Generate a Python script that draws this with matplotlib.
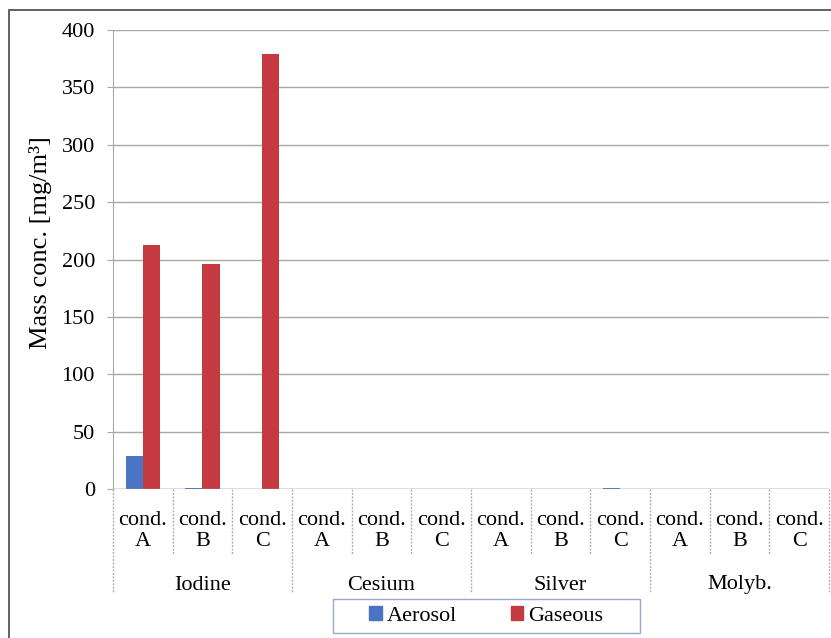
import numpy as np
import matplotlib
matplotlib.use('Agg')
import matplotlib.pyplot as plt
from matplotlib.patches import Rectangle, Patch
from matplotlib.transforms import blended_transform_factory

groups = ['Iodine', 'Cesium', 'Silver', 'Molyb.']
conds = ['A', 'B', 'C']
aerosol = [29.3, 1.5, 0, 0, 0, 0, 0, 0, 1.5, 0, 0, 0]
gaseous = [212.5, 196.2, 379, 0, 0, 0, 0, 0, 0, 0, 0, 0]

blue = '#4a74c4'
red = '#c43a40'

plt.rcParams['font.family'] = ['Liberation Serif', 'DejaVu Serif']
fs = 16

W, H = 831, 638
fig = plt.figure(figsize=(W / 100, H / 100), dpi=100)
ax = fig.add_axes([113 / W, (H - 489.3) / H, (829 - 113) / W, (489.3 - 30) / H])

x = np.arange(len(aerosol))
bw = 0.285
ax.bar(x - bw / 2, aerosol, bw, color=blue, zorder=3)
ax.bar(x + bw / 2, gaseous, bw, color=red, zorder=3)

ax.set_xlim(-0.5, len(x) - 0.5)
ax.set_ylim(0, 400)
ax.set_yticks(np.arange(0, 401, 50))
ax.yaxis.grid(True, color='#a8a8a0', lw=1.0)
ax.set_axisbelow(True)
ax.tick_params(axis='y', length=4, color='#a8a8a0', labelsize=fs, pad=9)
ax.tick_params(axis='x', length=0, labelbottom=False)
for s in ['top', 'right', 'bottom']:
    ax.spines[s].set_visible(False)
ax.spines['left'].set_color('#a8a8a0')
ax.spines['left'].set_linestyle((0, (1.5, 1)))
ax.axhline(0, color='#a0a0a0', lw=1.0, zorder=4)
fig.text(41 / W, 1 - 243 / H, 'Mass conc. [mg/m³]', rotation=90, ha='center', va='center',
         fontsize=19)

# multi-level category axis
trans = blended_transform_factory(ax.transData, ax.transAxes)
ah = 489.3 - 30
def fy(py):
    return -(py - 489.3) / ah

for i in range(len(x)):
    ax.text(i, fy(531), 'cond.\n' + conds[i % 3], transform=trans, ha='center', va='center',
            fontsize=fs, linespacing=1.1)
for i in range(len(x) + 1):
    top = fy(593) if i % 3 == 0 else fy(555)
    ax.plot([i - 0.5, i - 0.5], [0, top], transform=trans, color='#b0b0b0', lw=1.0,
            ls=(0, (1.5, 1)), clip_on=False)
for g, name in enumerate(groups):
    ax.text(g * 3 + 1, fy(585), name, transform=trans, ha='center', va='center', fontsize=fs)

handles = [Patch(color=blue, label='Aerosol'), Patch(color=red, label='Gaseous')]
leg = fig.legend(handles=handles, loc='center', bbox_to_anchor=(486.5 / W, 1 - 616 / H), ncol=2,
                 fontsize=fs, frameon=False, handlelength=0.55, handleheight=0.55,
                 handletextpad=0.25, columnspacing=2.4, borderpad=0.2)
fig.add_artist(Rectangle((333 / W, 1 - 633 / H), 307 / W, 34 / H, fill=False,
                         edgecolor='#9aa8c8', lw=1.0, transform=fig.transFigure))

# outer chart border (cropped on right and bottom)
fig.add_artist(Rectangle((9 / W, -0.1), 1.2, 1.1 - 10 / H, fill=False,
                         edgecolor='#555555', lw=1.3, transform=fig.transFigure))

fig.savefig('out.png', dpi=100)
